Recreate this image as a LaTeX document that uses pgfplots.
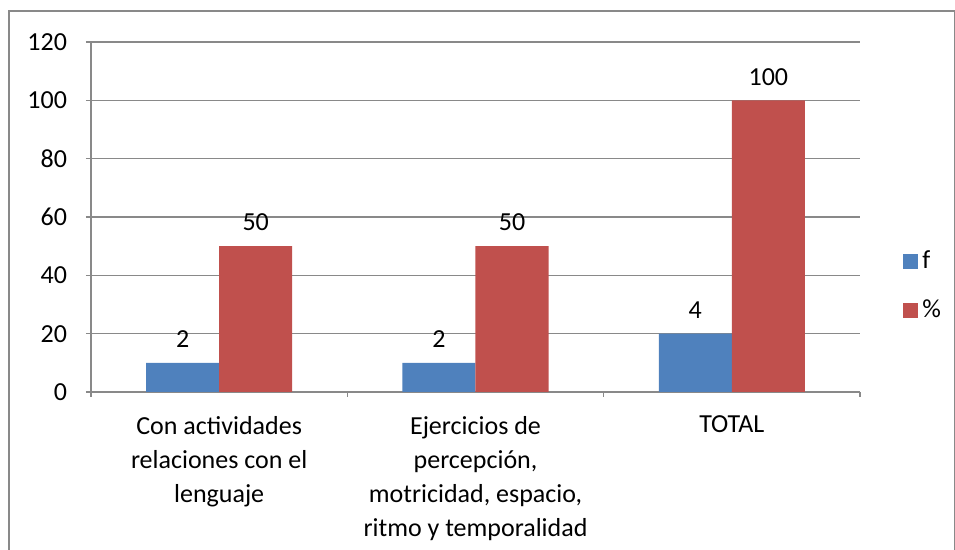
\documentclass[border=0pt]{standalone}
\usepackage{pgfplots}
\pgfplotsset{compat=1.18}
\usepackage{pgfplotstable}
\usepackage{fontspec}
\setmainfont{Carlito}
\definecolor{sblue}{HTML}{4F81BD}
\definecolor{sred}{HTML}{C0504D}
\definecolor{gridgray}{HTML}{898989}
\pgfplotstableread{
x y lab
0 10 2
1 10 2
2 20 4
}\fdata
\pgfplotstableread{
x y lab
0 50 50
1 50 50
2 100 100
}\pdata
\begin{document}
\begin{tikzpicture}
\useasboundingbox (0,0) rectangle (477.5pt,275pt);
\draw[gridgray, line width=0.6pt] (4.5pt,-1pt) rectangle (477.2pt,269.5pt);
\begin{axis}[
  at={(45.5pt,79pt)}, anchor=south west,
  scale only axis, width=384.5pt, height=175pt,
  font=\fontsize{13}{17}\selectfont,
  /pgf/number format/assume math mode=true,
  ybar=0pt, bar width=0.285,
  xmin=-0.5, xmax=2.5, ymin=0, ymax=120,
  ytick={0,20,...,120},
  xtick={-0.5,0.5,1.5,2.5},
  x tick label as interval,
  xticklabels={{Con actividades\\relaciones con el\\lenguaje}, {Ejercicios de\\percepción,\\motricidad, espacio,\\ritmo y temporalidad}, {TOTAL}},
  xticklabel style={align=center, yshift=-6pt},
  x tick style={draw=gridgray, line width=0.6pt},
  axis x line*=bottom, axis y line*=left,
  axis line style={draw=gridgray, line width=0.6pt, -},
  tick align=outside,
  y tick style={draw=gridgray, line width=0.6pt},
  major tick length=2.5pt,
  yticklabel style={xshift=-6pt},
  ymajorgrids, grid style={draw=gridgray, line width=0.6pt},
  legend style={at={(1.056,0.303)}, anchor=west, draw=none, fill=none,
    row sep=10pt, font=\fontsize{13}{15}\selectfont, inner sep=0pt},
  legend cell align=left,
  legend image code/.code={\fill[#1] (0pt,-3.75pt) rectangle (7.5pt,3.75pt);},
  nodes near coords,
  point meta=explicit symbolic,
  nodes near coords style={anchor=south, yshift=4pt, text=black, font=\fontsize{13}{15}\selectfont},
]
\addplot[fill=sblue, draw=none] table[x=x, y=y, meta=lab] {\fdata};
\addplot[fill=sred, draw=none] table[x=x, y=y, meta=lab] {\pdata};
\legend{f,\%}
\end{axis}
\end{tikzpicture}
\end{document}
